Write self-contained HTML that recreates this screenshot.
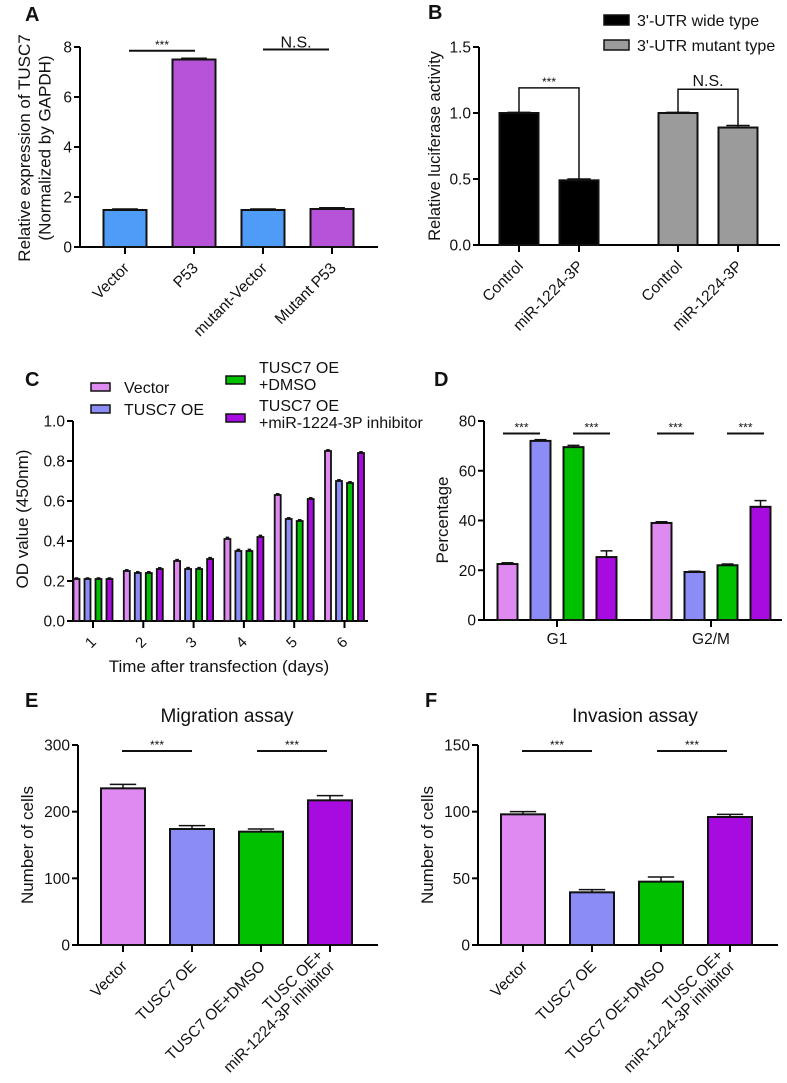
<!DOCTYPE html>
<html><head><meta charset="utf-8"><style>
html,body{margin:0;padding:0;background:#fff}
svg{display:block;font-family:"Liberation Sans",Arial,sans-serif}
</style></head><body>
<svg id="fig" width="787" height="1083" viewBox="0 0 787 1083" xmlns="http://www.w3.org/2000/svg"></svg>
<script>
// ---- data ----
const aCats = ["Vector","P53","mutant-Vector","Mutant P53"];
const aVals = [1.48, 7.5, 1.48, 1.52];
const aErrs = [0.04, 0.05, 0.04, 0.05];
const aTicks = [0,2,4,6,8];

const bCats = ["Control","miR-1224-3P","Control","miR-1224-3P"];
const bVals = [1.0, 0.49, 1.0, 0.89];
const bErrs = [0.005, 0.01, 0.005, 0.015];
const bTicks = [0,0.5,1.0,1.5];
const bTickLabels = ["0.0","0.5","1.0","1.5"];

const cDays = ["1","2","3","4","5","6"];
const cVector = [0.21,0.25,0.30,0.41,0.63,0.85];
const cOE = [0.21,0.24,0.26,0.35,0.51,0.70];
const cDMSO = [0.21,0.24,0.26,0.35,0.50,0.69];
const cInhib = [0.21,0.26,0.31,0.42,0.61,0.84];
const cErr = [0.005,0.006,0.007,0.008,0.006,0.006];
const cTicks = [0,0.2,0.4,0.6,0.8,1.0];
const cTickLabels = ["0.0","0.2","0.4","0.6","0.8","1.0"];

const dPhases = ["G1","G2/M"];
const dVector = [22.5, 39];
const dOE = [72, 19.3];
const dDMSO = [69.5, 22];
const dInhib = [25.3, 45.5];
const dVectorErr = [0.5, 0.5];
const dOEErr = [0.5, 0.3];
const dDMSOErr = [0.7, 0.5];
const dInhibErr = [2.5, 2.5];
const dTicks = [0,20,40,60,80];

const eCats = ["Vector","TUSC7 OE","TUSC7 OE+DMSO","TUSC OE+|miR-1224-3P inhibitor"];
const eVals = [235,174,170,217];
const eErrs = [6,5,4,7];
const eTicks = [0,100,200,300];

const fVals = [98,39.5,47.5,96];
const fErrs = [2,2,3.5,2];
const fTicks = [0,50,100,150];

const COLS4 = ["#de8af0","#8c8cf7","#00c000","#a70be0"];
const svg = document.getElementById('fig');
const NS = "http://www.w3.org/2000/svg";
function mk(tag, attrs, parent){
  const e = document.createElementNS(NS, tag);
  for (const k in attrs) e.setAttribute(k, attrs[k]);
  (parent||svg).appendChild(e);
  return e;
}
function txt(str, x, y, size, anchor, parent, extra){
  const t = mk('text', Object.assign({x:x,y:y,'font-size':size,'text-anchor':anchor||'middle',fill:'#111'}, extra||{}), parent);
  t.textContent = str;
  return t;
}
function scaleY(y0, yTop, vmax){ return v => y0 - (v/vmax)*(y0-yTop); }

function axes(g, x0, y0, yTop, xEnd, ticks, labels, vmax){
  const sy = scaleY(y0, yTop, vmax);
  const ya = mk('line',{x1:x0,y1:y0+1,x2:x0,y2:yTop,stroke:'#000','stroke-width':2},g);
  
  
  const xa = mk('line',{x1:x0-6,y1:y0,x2:xEnd,y2:y0,stroke:'#000','stroke-width':2},g);
  
  
  ticks.forEach((t,i)=>{
    const y = sy(t);
    mk('line',{x1:x0-6,y1:y,x2:x0,y2:y,stroke:'#000','stroke-width':2},g);
    const tl = txt(labels? labels[i] : String(t), x0-8, y+5.5, 15.5, 'end', g);
    
    
  });
  return sy;
}
function bar(g, cx, w, v, err, sy, y0, fill, sw){
  const top = sy(v);
  const r = mk('rect',{x:cx-w/2,y:top,width:w,height:y0-top,fill:fill,stroke:'#111','stroke-width':sw||2},g);
  
  
  const ey = sy(v+err);
  mk('line',{x1:cx,y1:top,x2:cx,y2:ey,stroke:'#111','stroke-width':1.5},g);
  mk('line',{x1:cx-w*0.3,y1:ey,x2:cx+w*0.3,y2:ey,stroke:'#111','stroke-width':1.5},g);
}
function xTick(g, x, y0){ mk('line',{x1:x,y1:y0,x2:x,y2:y0+7,stroke:'#000','stroke-width':2},g); }
function rotLabel(g, lines, x, y, size){
  const t = mk('text',{transform:`translate(${x},${y}) rotate(-45)`,'font-size':size,'text-anchor':'end',fill:'#111'},g);
  lines.forEach((l,i)=>{
    const ts = mk('tspan',{x:0,dy: i===0 ? (-(lines.length-1)*size*1.0) : size*1.05},t);
    ts.textContent = l;
  });
  
  
  return t;
}
function sig(g, x1, x2, y, label){
  mk('line',{x1:x1,y1:y,x2:x2,y2:y,stroke:'#111','stroke-width':2},g);
  const s = txt(label, (x1+x2)/2, y-2, label==='***'?12:16, 'middle', g);
  
  
}
function panelLetter(l, x, y){
  const t = txt(l, x, y, 20, 'start', svg, {'font-weight':'bold'});
  
  
}
function yTitle(g, lines, x, cy, size){
  const t = mk('text',{transform:`translate(${x},${cy}) rotate(-90)`,'font-size':size,'text-anchor':'middle',fill:'#111'},g);
  lines.forEach((l,i)=>{ const ts = mk('tspan',{x:0,dy:i===0?0:size*1.2},t); ts.textContent=l; });
  
  
}

// ---- Panel A ----
(function(){
  const g = mk('g',{});
  
  
  panelLetter('A', 25, 21);
  const x0=80, y0=247, yTop=47, xEnd=378;
  const sy = axes(g,x0,y0,yTop,xEnd,aTicks,null,8);
  const cols = ["#4e9cf5","#b653d9","#4e9cf5","#b653d9"];
  aCats.forEach((c,i)=>{
    const cx = 125 + i*69;
    bar(g,cx,43,aVals[i],aErrs[i],sy,y0,cols[i]);
    xTick(g,cx,y0);
    rotLabel(g,[c],cx+5,y0+22,15.5);
  });
  sig(g,129,195,sy(7.85),'***');
  sig(g,263,329,sy(7.9),'N.S.');
  yTitle(g,["Relative expression of TUSC7","(Normalized by GAPDH)"],30,148,17);
})();

// ---- Panel B ----
(function(){
  const g = mk('g',{});
  
  
  panelLetter('B', 428, 19);
  const x0=479, y0=245, yTop=47, xEnd=780;
  const sy = axes(g,x0,y0,yTop,xEnd,bTicks,bTickLabels,1.5);
  const xs=[519,579,678,738];
  const cols=["#000","#000","#9b9b9b","#9b9b9b"];
  bCats.forEach((c,i)=>{
    bar(g,xs[i],39,bVals[i],bErrs[i],sy,y0,cols[i]);
    xTick(g,xs[i],y0);
    rotLabel(g,[c],xs[i]+5,y0+22,15.5);
  });
  const by1 = sy(1.19), by2 = sy(1.18);
  mk('path',{d:`M${xs[0]},${sy(bVals[0])} V${by1} H${xs[1]} V${sy(bVals[1]+bErrs[1])}`,fill:'none',stroke:'#111','stroke-width':1.5},g);
  const s1 = txt('***',(xs[0]+xs[1])/2,by1-2,12,'middle',g);
  
  
  mk('path',{d:`M${xs[2]},${sy(bVals[2])} V${by2} H${xs[3]} V${sy(bVals[3]+bErrs[3])}`,fill:'none',stroke:'#111','stroke-width':1.5},g);
  const s2 = txt('N.S.',(xs[2]+xs[3])/2,by2-3,16,'middle',g);
  
  
  yTitle(g,["Relative luciferase activity"],440,146,16.5);
  const lg = mk('g',{},g);
  
  
  const items=[["3'-UTR wide type","#000"],["3'-UTR mutant type","#9b9b9b"]];
  items.forEach((it,i)=>{
    const y = 15+i*25;
    const r = mk('rect',{x:604,y:y,width:25,height:10,fill:it[1],stroke:'#111','stroke-width':1.5},lg);
    
    
    const t = txt(it[0],637,y+11,16,'start',lg);
    
    
  });
})();

// ---- Panel C ----
(function(){
  const g = mk('g',{});
  
  
  panelLetter('C', 25, 386);
  const x0=73, y0=621, yTop=421, xEnd=368;
  const sy = axes(g,x0,y0,yTop,xEnd,cTicks,cTickLabels,1.0);
  const series=[cVector,cOE,cDMSO,cInhib];
  cDays.forEach((d,i)=>{
    const cx = 93 + i*50.3;
    series.forEach((s,j)=>{
      bar(g,cx+(j-1.5)*11,6,s[i],cErr[i],sy,y0,COLS4[j],1.8);
    });
    xTick(g,cx,y0);
    const t = mk('text',{transform:`translate(${cx+4},${y0+22}) rotate(-45)`,'font-size':15,'text-anchor':'end',fill:'#111'},g);
    t.textContent = d;
    
    
  });
  const xt = txt('Time after transfection (days)',219,672,17,'middle',g);
  
  
  yTitle(g,["OD value (450nm)"],28,519,17);
  const lg = mk('g',{},g);
  
  
  const L=[[91,383,["Vector"],0],[91,405,["TUSC7 OE"],1],[226,376,["TUSC7 OE","+DMSO"],2],[226,414,["TUSC7 OE","+miR-1224-3P inhibitor"],3]];
  L.forEach(it=>{
    const r = mk('rect',{x:it[0],y:it[1],width:19,height:8,fill:COLS4[it[3]],stroke:'#111','stroke-width':1.5},lg);
    
    
    const t = mk('text',{x:it[0]+33,y:it[1]+(it[2].length>1?-3:10),'font-size':16,fill:'#111'},lg);
    it[2].forEach((l,k)=>{const ts=mk('tspan',{x:it[0]+33,dy:k?17:0},t); ts.textContent=l;});
    
    
  });
})();

// ---- Panel D ----
(function(){
  const g = mk('g',{});
  
  
  panelLetter('D', 434, 386);
  const x0=484, y0=620, yTop=421, xEnd=782;
  const sy = axes(g,x0,y0,yTop,xEnd,dTicks,null,80);
  const series=[dVector,dOE,dDMSO,dInhib];
  const errs=[dVectorErr,dOEErr,dDMSOErr,dInhibErr];
  dPhases.forEach((p,i)=>{
    const cx = 557 + i*154;
    series.forEach((s,j)=>{
      bar(g,cx+(j-1.5)*33,20,s[i],errs[j][i],sy,y0,COLS4[j]);
    });
    xTick(g,cx,y0);
    const t = txt(p,cx,y0+24,15.5,'middle',g);
    
    
    sig(g,cx-54,cx-17,sy(75),'***');
    sig(g,cx+16,cx+53,sy(75),'***');
  });
  yTitle(g,["Percentage"],448,520,17);
})();

// ---- Panels E & F ----
function cellPanel(letter, title, vals, errs, ticks, vmax, x0, titleX, nameKey){
  const g = mk('g',{});
  
  
  panelLetter(letter, x0-53, 707);
  const y0=945, yTop=745, xEnd=x0+300;
  const sy = axes(g,x0,y0,yTop,xEnd,ticks,null,vmax);
  const xs=[];
  eCats.forEach((c,i)=>{
    const cx = x0+45+i*69; xs.push(cx);
    bar(g,cx,44,vals[i],errs[i],sy,y0,COLS4[i]);
    xTick(g,cx,y0);
    rotLabel(g,c.split('|'),cx+5,y0+22,15.5);
  });
  sig(g,xs[0]-1,xs[1],751,'***');
  sig(g,xs[2]-4,xs[3]-3,751,'***');
  const tt = txt(title,titleX,722,19,'middle',g);
  
  
  yTitle(g,["Number of cells"],x0-45,845,17);
}
cellPanel('E','Migration assay',eVals,eErrs,eTicks,300,78,227,'panel-e-chart');
cellPanel('F','Invasion assay',fVals,fErrs,fTicks,150,478,635,'panel-f-chart');
</script>
</body></html>
